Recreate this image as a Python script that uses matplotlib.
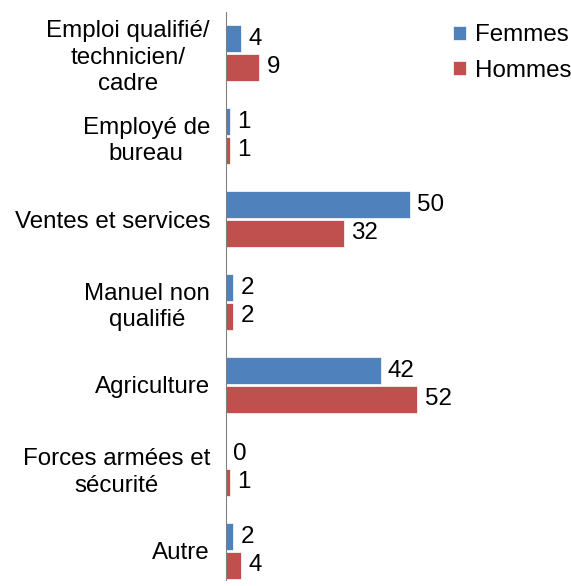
import matplotlib.pyplot as plt
import numpy as np

plt.rcParams['font.family'] = ['Liberation Sans', 'DejaVu Sans']

# data, top to bottom
categories = ['Emploi qualifié/\ntechnicien/\ncadre', 'Employé de\nbureau',
              'Ventes et services', 'Manuel non\nqualifié', 'Agriculture',
              'Forces armées et\nsécurité', 'Autre']
femmes = [4, 1, 50, 2, 42, 0, 2]
hommes = [9, 1, 32, 2, 52, 1, 4]

blue = '#4F81BD'
red = '#C0504D'
fs = 17.4

fig = plt.figure(figsize=(5.71, 5.86), dpi=100)
ax = fig.add_axes([226 / 571, 6 / 586, 322 / 571, 568 / 586])

y = np.arange(len(categories))
h = 0.325
bf = ax.barh(y - h / 2 - 0.01, femmes, height=h, color=blue, edgecolor='white', linewidth=0.5, label='Femmes')
bh = ax.barh(y + h / 2 + 0.01, hommes, height=h, color=red, edgecolor='white', linewidth=0.5, label='Hommes')

for bars, vals in [(bf, femmes), (bh, hommes)]:
    for b, v in zip(bars, vals):
        ax.text(b.get_width() + 2.0, b.get_y() + b.get_height() / 2, str(v),
                va='center', ha='left', fontsize=fs)

ax.set_xlim(0, 87.5)
ax.set_ylim(6.35, -0.495)
ax.set_yticks(y)
ax.set_yticklabels(categories, fontsize=fs, multialignment='center', linespacing=1.25)
ax.tick_params(axis='y', length=0, pad=11.5)
ax.set_xticks([])
for s in ['top', 'right', 'bottom']:
    ax.spines[s].set_visible(False)
ax.spines['left'].set_color('#808080')

ax.legend(loc='upper right', bbox_to_anchor=(1.125, 1.008), frameon=False, fontsize=fs,
          handlelength=0.55, handleheight=0.55, handletextpad=0.35, labelspacing=0.55,
          borderaxespad=0.3)

fig.savefig('out.png', dpi=100)
